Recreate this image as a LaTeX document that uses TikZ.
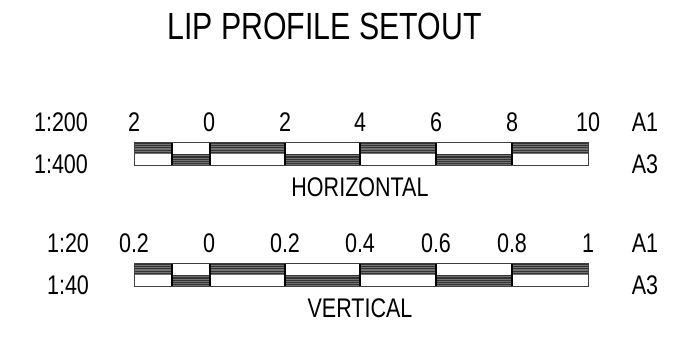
\documentclass[tikz,border=0pt]{standalone}
\usepackage{fontspec}
\setmainfont[FakeStretch=0.8]{Liberation Sans}
\newcommand{\hatchband}[3]{%
  \fill[bandfill] ({#1},{#2}) rectangle ({#3},{#2+11.5});
  \foreach \k in {0,1,2,3,4}{%
    \draw[hatchline] ({#1},{#2+1.2+\k*2.3}) -- ({#3},{#2+1.2+\k*2.3});}}
\newcommand{\scalebar}[1]{%
  \begin{scope}[yshift=#1]
    \draw[barframe,fill=white] (134,0) rectangle (588,23);
    \foreach \a/\b in {134/172,210/285,360/436,512/588}{\hatchband{\a}{0}{\b}}
    \foreach \a/\b in {172/210,285/360,436/512}{\hatchband{\a}{11.5}{\b}}
    \foreach \t in {172,210,285,360,436,512}{\draw[barframe,line width=1.1pt,draw=black] (\t,0) -- (\t,23);}
    \draw[barframe] (134,0) rectangle (588,23);
  \end{scope}}
\begin{document}
\begin{tikzpicture}[x=1bp,y=-1bp,
  lab/.style={font=\fontsize{27}{27}\selectfont,inner sep=0pt,text=black},
  titlelab/.style={font=\fontsize{38}{38}\selectfont,inner sep=0pt,text=black},
  hatchline/.style={line width=1.1pt,draw=black!80},
  bandfill/.style={fill=black!55},
  barframe/.style={line width=1pt,draw=black!75}]
\useasboundingbox (0,0) rectangle (700,337);
\fill[white] (0,0) rectangle (700,337);
\node[titlelab] (title) at (324.5,26) {LIP PROFILE SETOUT};
\scalebar{-142bp}
\scalebar{-263bp}
\node[lab] (a) at (61,122) {1:200};
\node[lab] (b) at (61,164) {1:400};
\node[lab] (c) at (68,243) {1:20};
\node[lab] (d) at (68,285) {1:40};
\foreach \n/\x/\t in {h1/134/2,h2/209/0,h3/285/2,h4/360/4,h5/436/6,h6/512/8,h7/588/10}{\node[lab] (\n) at (\x,122) {\t};}
\foreach \n/\x/\t in {v1/134/0.2,v2/209/0,v3/285/0.2,v4/360/0.4,v5/436/0.6,v6/512/0.8,v7/588/1}{\node[lab] (\n) at (\x,243) {\t};}
\node[lab] (ha) at (645,122) {A1};
\node[lab] (hb) at (645,164) {A3};
\node[lab] (va) at (645,243) {A1};
\node[lab] (vb) at (645,285) {A3};
\node[lab] (hl) at (360,187) {HORIZONTAL};
\node[lab] (vl) at (360,308) {VERTICAL};
\end{tikzpicture}
\end{document}
